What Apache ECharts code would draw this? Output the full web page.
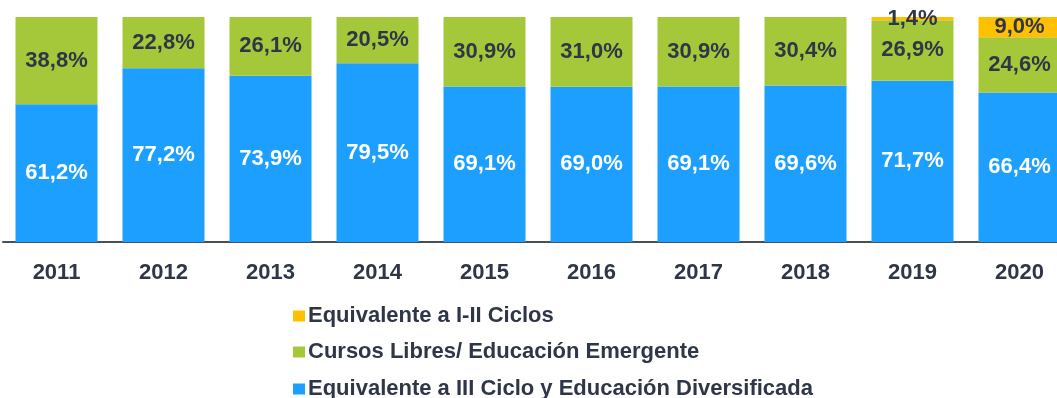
<!DOCTYPE html>
<html>
<head>
<meta charset="utf-8">
<script src="https://cdn.jsdelivr.net/npm/echarts@6/dist/echarts.min.js"></script>
<style>
  html, body { margin: 0; padding: 0; background: #ffffff; }
  #chart { width: 1057px; height: 398px; }
</style>
</head>
<body>
<div id="chart"></div>
<script>
// Years on the category axis
const years = ['2011', '2012', '2013', '2014', '2015', '2016', '2017', '2018', '2019', '2020'];

// Share of each programme per year (percent)
const cicloDiversificada = [61.2, 77.2, 73.9, 79.5, 69.1, 69.0, 69.1, 69.6, 71.7, 66.4];
const cursosLibres = [38.8, 22.8, 26.1, 20.5, 30.9, 31.0, 30.9, 30.4, 26.9, 24.6];
const ciclosI_II = [null, null, null, null, null, null, null, null, 1.4, 9.0];

const seriesNames = [
  'Equivalente a III Ciclo y Educación Diversificada',
  'Cursos Libres/ Educación Emergente',
  'Equivalente a I-II Ciclos'
];

const textDark = '#2f3648';
const fontFamily = '"Liberation Sans", Arial, sans-serif';

const pct = p => p.value == null ? '' : p.value.toFixed(1).replace('.', ',') + '%';

function barSeries(name, data, color, labelColor) {
  return {
    name: name,
    type: 'bar',
    stack: 'total',
    data: data,
    barWidth: 82,
    itemStyle: { color: color },
    label: {
      show: true,
      position: 'inside',
      formatter: pct,
      color: labelColor,
      fontFamily: fontFamily,
      fontWeight: 'bold',
      fontSize: 22
    }
  };
}

// One legend block per line, stacked top to bottom
function legendLine(name, top) {
  return {
    orient: 'vertical',
    left: 288,
    top: top,
    itemWidth: 12,
    itemHeight: 11,
    icon: 'rect',
    data: [name],
    textStyle: {
      color: textDark,
      fontFamily: fontFamily,
      fontWeight: 'bold',
      fontSize: 22,
      padding: [0, 0, 0, -2]
    }
  };
}

const chart = echarts.init(document.getElementById('chart'));
chart.setOption({
  animation: false,
  // the last column runs past the right edge of the canvas
  grid: { left: 3, width: 1070, top: 17, bottom: 156, outerBoundsMode: 'none' },
  legend: [
    legendLine(seriesNames[2], 300),
    legendLine(seriesNames[1], 336),
    legendLine(seriesNames[0], 373)
  ],
  xAxis: {
    type: 'category',
    data: years,
    axisLine: { lineStyle: { color: '#474f5e', width: 2 } },
    axisTick: { show: false },
    axisLabel: {
      color: textDark,
      fontFamily: fontFamily,
      fontWeight: 'bold',
      fontSize: 22,
      margin: 20
    }
  },
  yAxis: {
    type: 'value',
    min: 0,
    max: 100,
    show: false
  },
  series: [
    barSeries(seriesNames[0], cicloDiversificada, '#1c9fff', '#ffffff'),
    barSeries(seriesNames[1], cursosLibres, '#a5c83a', textDark),
    barSeries(seriesNames[2], ciclosI_II, '#ffc000', textDark)
  ]
});
</script>
</body>
</html>
